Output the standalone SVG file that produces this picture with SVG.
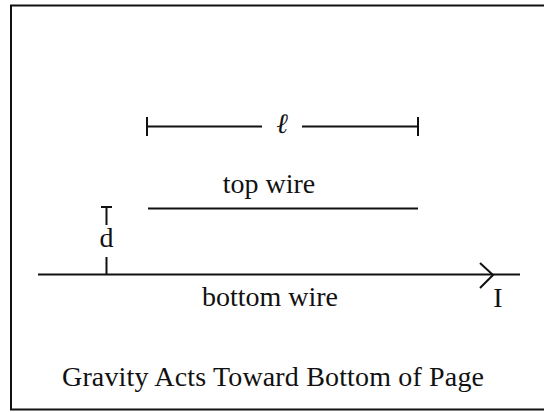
<svg xmlns="http://www.w3.org/2000/svg" width="544" height="412" viewBox="0 0 544 412">
<style>
.ln{stroke:#111;stroke-width:2;fill:none}
.tx{font-family:"Liberation Serif","Times New Roman",serif;font-size:28px;fill:#111}
</style>
<rect x="0" y="0" width="544" height="412" fill="#fff"/>
<g id="frame"><path class="ln" d="M550,5.5 H11 V409.5 H550"/></g>
<g id="length-dim">
<path class="ln" d="M147,117 V136 M147,126.5 H262 M302,126.5 H418 M418,117 V136"/>
<text class="tx" x="282" y="133" text-anchor="middle" font-style="italic" font-size="20">ℓ</text>
</g>
<g id="top-wire">
<path class="ln" d="M148,208.5 H418"/>
<text class="tx" x="269" y="193" text-anchor="middle">top wire</text>
</g>
<g id="gap-d">
<path class="ln" d="M101,207 H112 M106.5,207 V225 M106.5,257 V274"/>
<text class="tx" x="106.5" y="247" text-anchor="middle">d</text>
</g>
<g id="bottom-wire">
<path class="ln" d="M38,274.5 H520"/>
<path class="ln" d="M480,263 L493,275 L480,288"/>
<text class="tx" x="270" y="306" text-anchor="middle">bottom wire</text>
<text class="tx" x="498" y="307" text-anchor="middle">I</text>
</g>
<g id="caption">
<text class="tx" x="62" y="386" textLength="422" lengthAdjust="spacing">Gravity Acts Toward Bottom of Page</text>
</g>
</svg>
